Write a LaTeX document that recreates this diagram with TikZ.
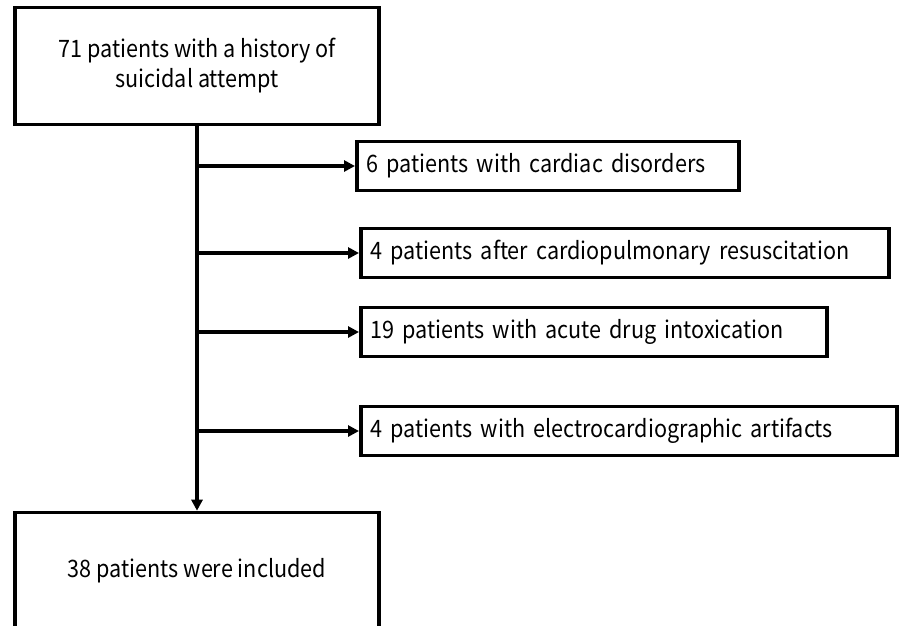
\documentclass[tikz,border=0pt]{standalone}
\usepackage{fontspec}
\setmainfont{Noto Sans CJK JP}[FakeStretch=0.9]
\usetikzlibrary{arrows.meta}
\begin{document}
\begin{tikzpicture}[x=1pt,y=-1pt,
  boxbase/.style={draw, line width=3.6pt, inner sep=0pt, font=\fontsize{24}{30}\selectfont},
  mainbox/.style={boxbase, minimum width=364pt, minimum height=117pt, align=center},
  sidebox/.style={boxbase, anchor=west, inner xsep=10pt, minimum height=49pt, align=left},
  arr/.style={line width=3.8pt, -{Triangle[length=11pt,width=11pt]}}]
\useasboundingbox (0,0) rectangle (899,625);
\node[mainbox] (top) at (197,66) {71 patients with a history of\\suicidal attempt};
\node[mainbox] (bot) at (197,571) {38 patients were included};
\node[sidebox, text width=362pt] (c1) at (355,166) {6 patients with cardiac disorders};
\node[sidebox, text width=508pt] (c2) at (359,253) {4 patients after cardiopulmonary resuscitation};
\node[sidebox, text width=446pt] (c3) at (359,332) {19 patients with acute drug intoxication};
\node[sidebox, text width=516pt] (c4) at (359,431) {4 patients with electrocardiographic artifacts};
\draw[arr] (top.south) -- (bot.north);
\foreach \n in {c1,c2,c3,c4} \draw[arr] (top.south |- \n.west) -- (\n.west);
\end{tikzpicture}
\end{document}
